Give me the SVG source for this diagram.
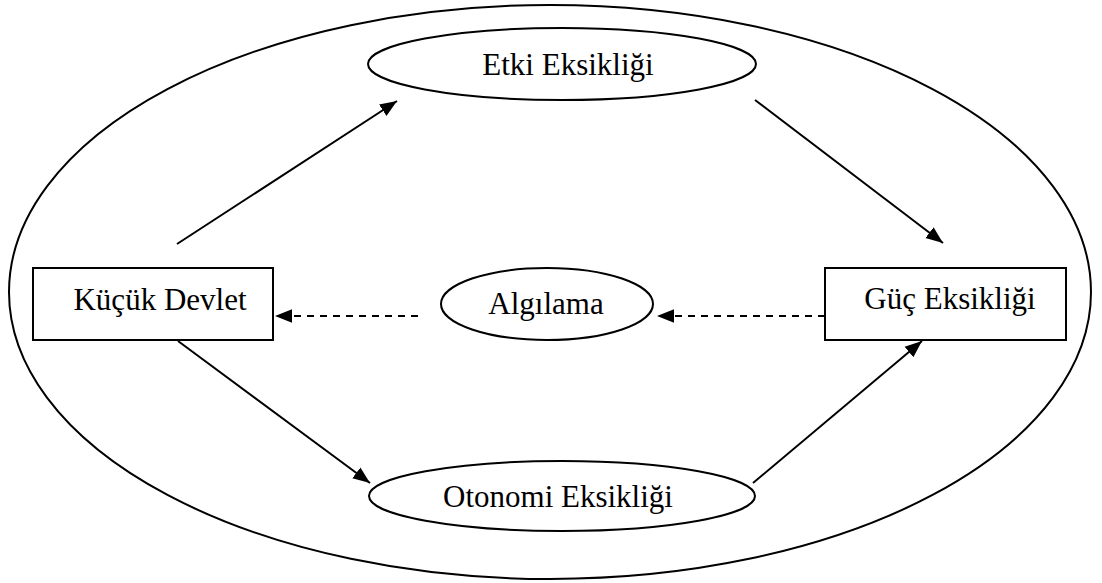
<svg xmlns="http://www.w3.org/2000/svg" width="1102" height="583" viewBox="0 0 1102 583">
<style>
.s{fill:none;stroke:#000;stroke-width:2}
.n{fill:#fff;stroke:#000;stroke-width:2}
.t{font-family:"Liberation Serif","Times New Roman",serif;font-size:31px;fill:#000;text-anchor:middle}
.c{stroke:#000;stroke-width:2;fill:none}
.d{stroke-dasharray:7,6}
</style>
<defs>
<marker id="ahb" viewBox="0 0 10 10" refX="10" refY="5" markerWidth="17" markerHeight="17" markerUnits="userSpaceOnUse" orient="auto">
<path d="M0,1 L10,5 L0,9 z" fill="#000"/>
</marker>
</defs>
<ellipse id="outer" class="s" cx="550" cy="292" rx="541" ry="287"/>
<g id="connectors">
<line class="c" x1="177" y1="244" x2="397" y2="101" marker-end="url(#ahb)"/>
<line class="c" x1="755" y1="100" x2="943" y2="243" marker-end="url(#ahb)"/>
<line class="c" x1="178" y1="341" x2="370" y2="483" marker-end="url(#ahb)"/>
<line class="c" x1="753" y1="483" x2="922" y2="341" marker-end="url(#ahb)"/>
<line class="c d" x1="825" y1="316" x2="657" y2="316" marker-end="url(#ahb)"/>
<line class="c d" x1="418" y1="316" x2="275" y2="316" marker-end="url(#ahb)"/>
</g>
<g id="etki">
<ellipse class="n" cx="562" cy="64" rx="194" ry="36"/>
<text class="t" x="568" y="75">Etki Eksikliği</text>
</g>
<g id="kucuk">
<rect class="n" x="33" y="268" width="240" height="72"/>
<text class="t" x="160" y="310">Küçük Devlet</text>
</g>
<g id="algilama">
<ellipse class="n" cx="547" cy="304" rx="106" ry="36"/>
<text class="t" x="546" y="314">Algılama</text>
</g>
<g id="guc">
<rect class="n" x="825" y="268" width="241" height="72"/>
<text class="t" x="950" y="309">Güç Eksikliği</text>
</g>
<g id="otonomi">
<ellipse class="n" cx="562" cy="496" rx="193" ry="35"/>
<text class="t" x="558" y="507">Otonomi Eksikliği</text>
</g>
</svg>
